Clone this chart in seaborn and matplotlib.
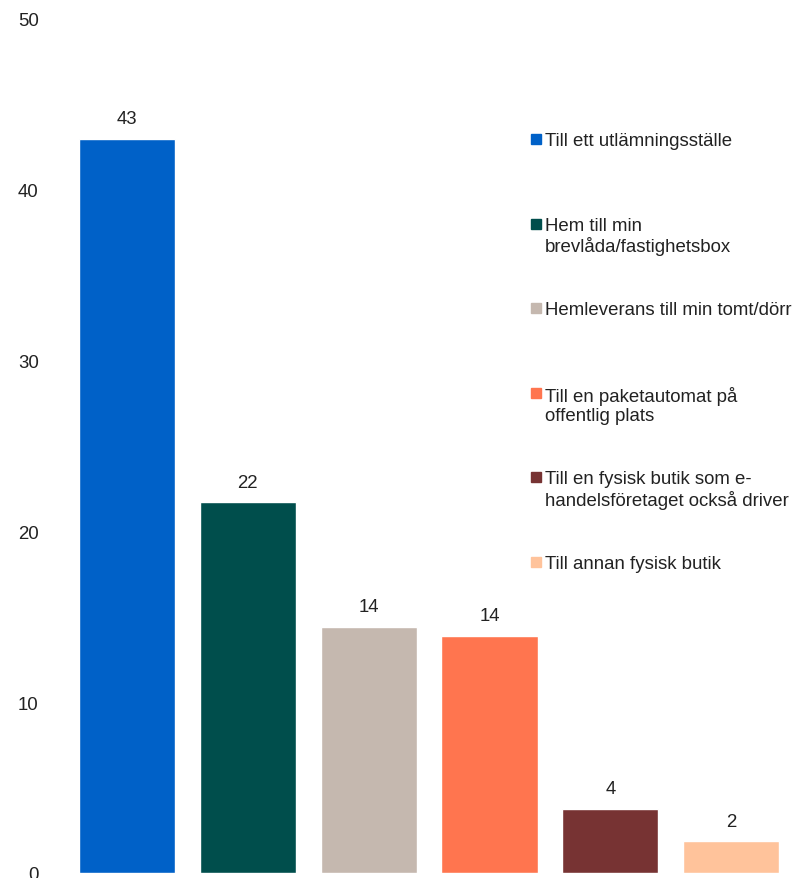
import matplotlib
matplotlib.use("Agg")
import matplotlib.pyplot as plt
from matplotlib.patches import Rectangle
import seaborn as sns

# Data
kategorier = [
    "Till ett utlämningsställe",
    "Hem till min\nbrevlåda/fastighetsbox",
    "Hemleverans till min tomt/dörr",
    "Till en paketautomat på\noffentlig plats",
    "Till en fysisk butik som e-\nhandelsföretaget också driver",
    "Till annan fysisk butik",
]
andel = [43.0, 21.7, 14.4, 13.9, 3.75, 1.85]
etiketter = ["43", "22", "14", "14", "4", "2"]
farger = ["#0061C8", "#004E4C", "#C5B8AF", "#FF754F", "#773333", "#FFC39B"]
yticks = [0, 10, 20, 30, 40, 50]

sns.set_style("white")
plt.rcParams["font.family"] = ["Liberation Sans", "DejaVu Sans"]
plt.rcParams["font.size"] = 13.4

W, H = 792, 879
fig = plt.figure(figsize=(W / 100, H / 100), dpi=100)
ax = fig.add_axes([66.6 / W, 5 / H, 725 / W, 854 / H])

sns.barplot(x=list(range(len(andel))), y=andel, hue=list(range(len(andel))),
            palette=farger, width=0.795, legend=False, ax=ax, saturation=1)

# value labels above the bars
for i, (v, t) in enumerate(zip(andel, etiketter)):
    ax.annotate(t, (i, v), xytext=(0, 8.5), textcoords="offset points",
                ha="center", va="bottom", color="#222222")

ax.set_xlim(-0.5, 5.5)
ax.set_ylim(0, 50)
ax.set_yticks(yticks)
ax.set_xticks([])
ax.tick_params(axis="y", length=0, pad=20, labelcolor="#222222")
ax.set_xlabel("")
ax.set_ylabel("")
sns.despine(ax=ax, left=True, bottom=True)

# Legend, one slot per category
for i, (lab, col) in enumerate(zip(kategorier, farger)):
    cy = 140 + 84.6 * i
    fig.patches.append(Rectangle((531 / W, 1 - (cy + 5) / H), 10 / W, 10 / H,
                                 transform=fig.transFigure, color=col, figure=fig))
    fig.text(545 / W, 1 - (cy - 7) / H, lab, va="top", ha="left",
             color="#222222", linespacing=1.18)

fig.savefig("out.png", dpi=100)
